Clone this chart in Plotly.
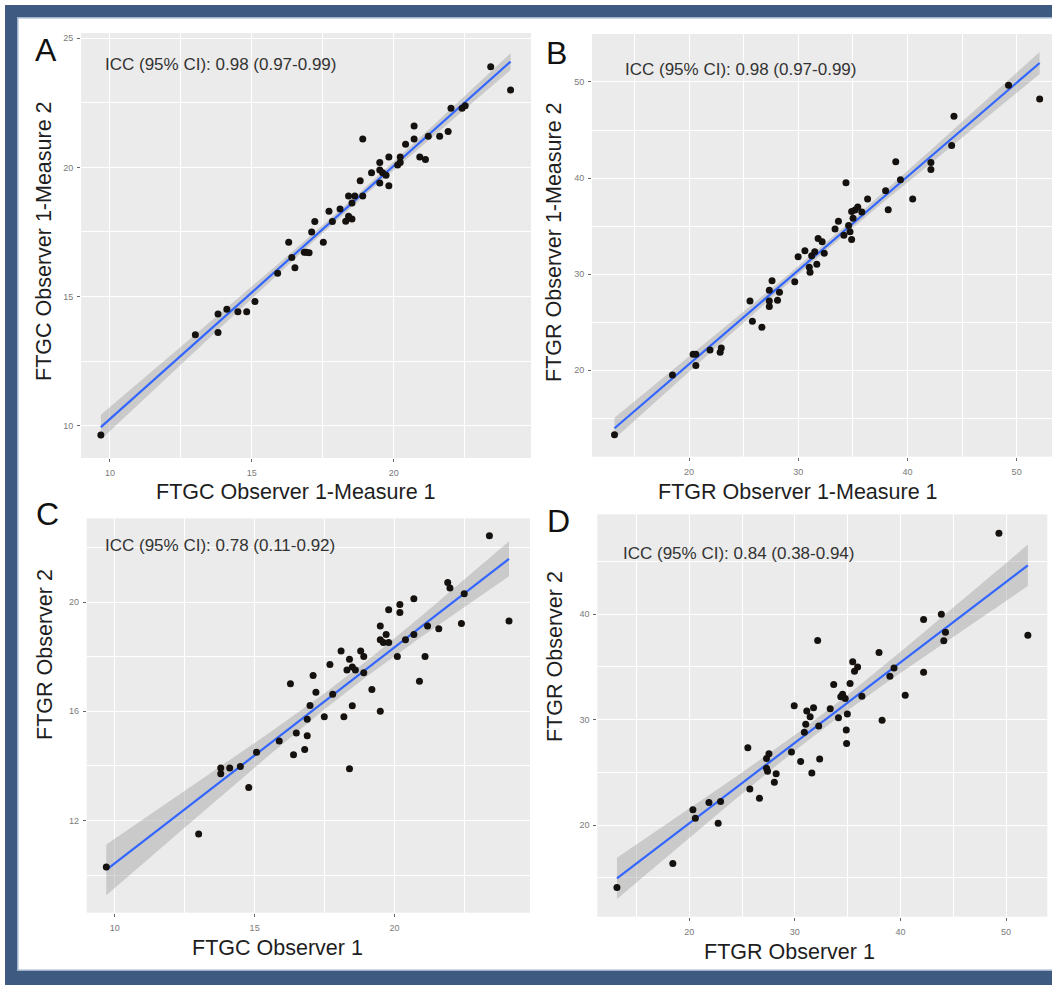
import numpy as np
import plotly.graph_objects as go

W, H = 1052, 985

# ---------------- data ----------------
a_x = [9.68, 13.01, 13.81, 13.81, 14.12, 14.51, 14.82, 15.11, 15.91, 16.30, 16.41, 16.52, 16.85, 16.92,
       17.02, 17.11, 17.22, 17.52, 17.72, 17.84, 18.11, 18.31, 18.41, 18.53, 18.41, 18.63, 18.53, 18.82,
       18.91, 18.91, 19.22, 19.51, 19.51, 19.51, 19.61, 19.73, 19.83, 19.83, 20.14, 20.23, 20.23, 20.42,
       20.72, 20.72, 20.92, 21.12, 21.22, 21.62, 21.92, 22.02, 22.41, 22.52, 23.42, 24.12]
a_y = [9.64, 13.52, 14.32, 13.61, 14.51, 14.41, 14.41, 14.81, 15.90, 17.10, 16.51, 16.11, 16.71, 16.71,
       16.69, 17.50, 17.90, 17.10, 18.30, 17.90, 18.39, 17.91, 18.11, 18.00, 18.89, 18.89, 18.62, 19.48,
       21.10, 18.89, 19.79, 20.19, 19.90, 19.39, 19.79, 19.69, 20.40, 19.29, 20.09, 20.40, 20.19, 20.89,
       21.60, 21.10, 20.40, 20.30, 21.20, 21.20, 21.39, 22.29, 22.29, 22.38, 23.89, 22.99]

b_x = [13.17, 18.48, 20.37, 20.62, 20.62, 21.92, 22.85, 22.95, 25.58, 25.80, 26.67, 27.35, 27.35, 27.35,
       27.60, 28.10, 28.28, 29.68, 29.99, 30.61, 31.01, 31.08, 31.23, 31.51, 31.70, 31.82, 32.19, 32.38,
       33.37, 33.68, 34.18, 34.37, 34.61, 34.74, 34.89, 34.89, 35.02, 35.20, 35.45, 35.82, 36.35, 38.00,
       38.24, 38.93, 39.36, 40.48, 42.15, 42.15, 44.05, 44.26, 49.26, 52.11]
b_y = [13.30, 19.51, 21.67, 21.67, 20.49, 22.12, 21.88, 22.33, 27.22, 25.10, 24.48, 28.33, 27.22, 26.63,
       29.31, 27.29, 28.13, 29.20, 31.81, 32.43, 30.73, 30.21, 31.91, 32.33, 31.04, 33.72, 33.37, 32.19,
       34.69, 35.52, 34.06, 39.51, 35.07, 34.41, 33.61, 36.53, 35.83, 36.67, 36.98, 36.46, 37.81, 38.68,
       36.70, 41.70, 39.83, 37.81, 41.63, 40.90, 43.40, 46.42, 49.65, 48.23]

c_x = [9.70, 13.00, 13.79, 13.79, 14.11, 14.49, 14.79, 15.07, 15.88, 16.28, 16.39, 16.49, 16.79, 16.88,
       16.88, 16.98, 17.09, 17.19, 17.49, 17.69, 17.79, 18.09, 18.19, 18.30, 18.39, 18.39, 18.49, 18.49,
       18.60, 18.79, 18.90, 18.90, 19.19, 19.49, 19.49, 19.49, 19.60, 19.70, 19.79, 19.79, 20.10, 20.19,
       20.19, 20.39, 20.69, 20.69, 20.89, 21.09, 21.18, 21.58, 21.90, 21.98, 22.39, 22.49, 23.39, 24.09]
c_y = [10.29, 11.50, 13.92, 13.71, 13.92, 13.98, 13.21, 14.50, 14.91, 17.01, 14.41, 15.20, 14.60, 15.71,
       15.10, 16.21, 17.31, 16.70, 15.80, 17.71, 16.62, 18.21, 15.80, 17.51, 17.91, 13.89, 17.62, 16.20,
       17.51, 18.21, 18.01, 17.41, 16.80, 19.12, 18.62, 16.00, 18.52, 18.81, 19.72, 18.52, 18.01, 19.91,
       19.62, 18.62, 20.12, 18.81, 17.10, 18.01, 19.12, 19.02, 20.72, 20.52, 19.22, 20.31, 22.43, 19.31]

d_x = [13.16, 18.45, 20.35, 20.58, 21.87, 22.74, 22.97, 25.55, 25.74, 26.65, 27.32, 27.32, 27.42, 27.55,
       28.06, 28.23, 29.68, 29.94, 30.55, 30.90, 31.03, 31.13, 31.45, 31.61, 31.77, 32.16, 32.26, 32.35,
       33.35, 33.68, 34.13, 34.35, 34.52, 34.77, 34.87, 34.90, 34.97, 35.23, 35.48, 35.65, 35.94, 36.35,
       37.97, 38.26, 39.00, 39.39, 40.45, 42.19, 42.19, 43.87, 44.10, 44.26, 49.32, 52.06]
d_y = [14.07, 16.36, 21.44, 20.63, 22.14, 20.16, 22.23, 27.32, 23.42, 22.54, 26.31, 25.37, 25.09, 26.75,
       24.05, 24.87, 26.91, 31.30, 26.03, 28.79, 29.54, 30.80, 30.27, 24.93, 31.11, 37.49, 29.39, 26.25,
       31.02, 33.31, 30.17, 32.15, 32.40, 31.99, 29.01, 27.72, 30.52, 33.41, 35.48, 34.57, 34.98, 32.21,
       36.36, 29.92, 34.10, 34.88, 32.31, 39.47, 34.47, 39.97, 37.46, 38.27, 47.66, 37.99]

panel_letters = ["A", "B", "C", "D"]
icc_texts = ["ICC (95% CI): 0.98 (0.97-0.99)", "ICC (95% CI): 0.98 (0.97-0.99)",
             "ICC (95% CI): 0.78 (0.11-0.92)", "ICC (95% CI): 0.84 (0.38-0.94)"]
x_titles = ["FTGC Observer 1-Measure 1", "FTGR Observer 1-Measure 1", "FTGC Observer 1", "FTGR Observer 1"]
y_titles = ["FTGC Observer 1-Measure 2", "FTGR Observer 1-Measure 2", "FTGR Observer 2", "FTGR Observer 2"]

# ---------------- layout geometry (pixels) ----------------
def px(x):
    return x / W

def py(y):
    return 1 - y / H

panels = [
    dict(x=a_x, y=a_y, dom=(81, 531, 33, 458), xr=[8.98, 24.84], yr=[8.75, 25.2], xd=5, yd=5,
         letter=(46, 50), icc=(103, 64), xt=(296, 492), yt=(44, 241)),
    dict(x=b_x, y=b_y, dom=(592, 1052, 34, 456.7), xr=[11.11, 53.24], yr=[11.01, 54.99], xd=10, yd=10,
         letter=(556, 53), icc=(623, 69), xt=(798, 492), yt=(554, 242)),
    dict(x=c_x, y=c_y, dom=(86.7, 530, 518.3, 912.7), xr=[9.0, 24.84], yr=[8.62, 23.07], xd=5, yd=4,
         letter=(47, 514), icc=(103, 545), xt=(277, 948), yt=(45, 655)),
    dict(x=d_x, y=d_y, dom=(597.3, 1047.3, 514.3, 916.7), xr=[11.3, 53.9], yr=[11.31, 49.45], xd=10, yd=10,
         letter=(558, 521), icc=(621, 553), xt=(789, 952), yt=(555, 657)),
]

FONT = "Liberation Sans, Arial, sans-serif"
fig = go.Figure()
annotations = []
shapes = []


def lm_band(xs, ys):
    xs = np.asarray(xs, float)
    ys = np.asarray(ys, float)
    n = len(xs)
    b, a = np.polyfit(xs, ys, 1)
    resid = ys - (a + b * xs)
    s = np.sqrt(np.sum(resid ** 2) / (n - 2))
    xbar = xs.mean()
    sxx = np.sum((xs - xbar) ** 2)
    df = n - 2
    z = 1.959964
    t = z + (z ** 3 + z) / (4 * df) + (5 * z ** 5 + 16 * z ** 3 + 3 * z) / (96 * df ** 2)
    xg = np.linspace(xs.min(), xs.max(), 80)
    fit = a + b * xg
    se = s * np.sqrt(1.0 / n + (xg - xbar) ** 2 / sxx)
    return xg, fit, fit - t * se, fit + t * se


for i, p in enumerate(panels):
    k = "" if i == 0 else str(i + 1)
    xa, ya = "x" + k, "y" + k
    xg, fit, lo, hi = lm_band(p["x"], p["y"])
    fig.add_trace(go.Scatter(x=np.concatenate([xg, xg[::-1]]), y=np.concatenate([hi, lo[::-1]]),
                             fill="toself", fillcolor="rgba(153,153,153,0.4)", line=dict(width=0),
                             mode="lines", hoverinfo="skip", showlegend=False, xaxis=xa, yaxis=ya))
    fig.add_trace(go.Scatter(x=xg, y=fit, mode="lines", line=dict(color="#3366FF", width=2.2),
                             showlegend=False, xaxis=xa, yaxis=ya))
    fig.add_trace(go.Scatter(x=p["x"], y=p["y"], mode="markers",
                             marker=dict(color="#15110e", size=7, line=dict(width=0)),
                             showlegend=False, xaxis=xa, yaxis=ya))
    l, r, t_, b_ = p["dom"]
    common = dict(showgrid=True, gridcolor="white", gridwidth=1.4, zeroline=False,
                  ticks="outside", ticklen=3, tickwidth=1, tickcolor="#666666",
                  tickfont=dict(family=FONT, size=9, color="#7a7a7a"), showline=False,
                  fixedrange=True)
    fig.layout["xaxis" + k] = dict(domain=[px(l), px(r)], range=p["xr"], dtick=p["xd"], tick0=0,
                                   anchor=ya, ticklabelstandoff=3,
                                   minor=dict(dtick=p["xd"] / 2, tick0=0, showgrid=True,
                                              gridcolor="white", gridwidth=0.7),
                                   **common)
    fig.layout["yaxis" + k] = dict(domain=[py(b_), py(t_)], range=p["yr"], dtick=p["yd"], tick0=0,
                                   anchor=xa, ticklabelstandoff=2,
                                   minor=dict(dtick=p["yd"] / 2, tick0=0, showgrid=True,
                                              gridcolor="white", gridwidth=0.7),
                                   **common)
    annotations.append(dict(text=panel_letters[i], x=px(p["letter"][0]), y=py(p["letter"][1]),
                            xref="paper", yref="paper", showarrow=False, xanchor="center",
                            yanchor="middle", font=dict(family=FONT, size=32, color="#111111")))
    annotations.append(dict(text=icc_texts[i], x=px(p["icc"][0]), y=py(p["icc"][1]),
                            xref="paper", yref="paper", showarrow=False, xanchor="left",
                            yanchor="middle", font=dict(family=FONT, size=17, color="#333333")))
    annotations.append(dict(text=x_titles[i], x=px(p["xt"][0]), y=py(p["xt"][1]),
                            xref="paper", yref="paper", showarrow=False, xanchor="center",
                            yanchor="middle", font=dict(family=FONT, size=21.5, color="#1e1e1e")))
    annotations.append(dict(text=y_titles[i], x=px(p["yt"][0]), y=py(p["yt"][1]),
                            xref="paper", yref="paper", showarrow=False, xanchor="center",
                            yanchor="middle", textangle=-90,
                            font=dict(family=FONT, size=21.5, color="#1e1e1e")))

# ---------------- frame ----------------
FRAME = "#3e5a80"
EDGE = "#9fb2cc"
def rect(x0, y0, x1, y1, color):
    shapes.append(dict(type="rect", xref="paper", yref="paper", x0=px(x0), x1=px(x1),
                       y0=py(y1), y1=py(y0), fillcolor=color, line=dict(width=0), layer="above"))

rect(5, 5, 1052, 17, FRAME)      # top
rect(5, 5, 17, 985, FRAME)       # left
rect(5, 971, 1052, 985, FRAME)   # bottom
rect(17, 17, 1052, 18.5, EDGE)
rect(17, 17, 18.5, 971, EDGE)
rect(17, 969.5, 1052, 971, EDGE)

fig.update_layout(width=W, height=H, margin=dict(l=0, r=0, t=0, b=0),
                  paper_bgcolor="white", plot_bgcolor="#EBEBEB",
                  annotations=annotations, shapes=shapes, showlegend=False)

fig.write_html("out.html")
